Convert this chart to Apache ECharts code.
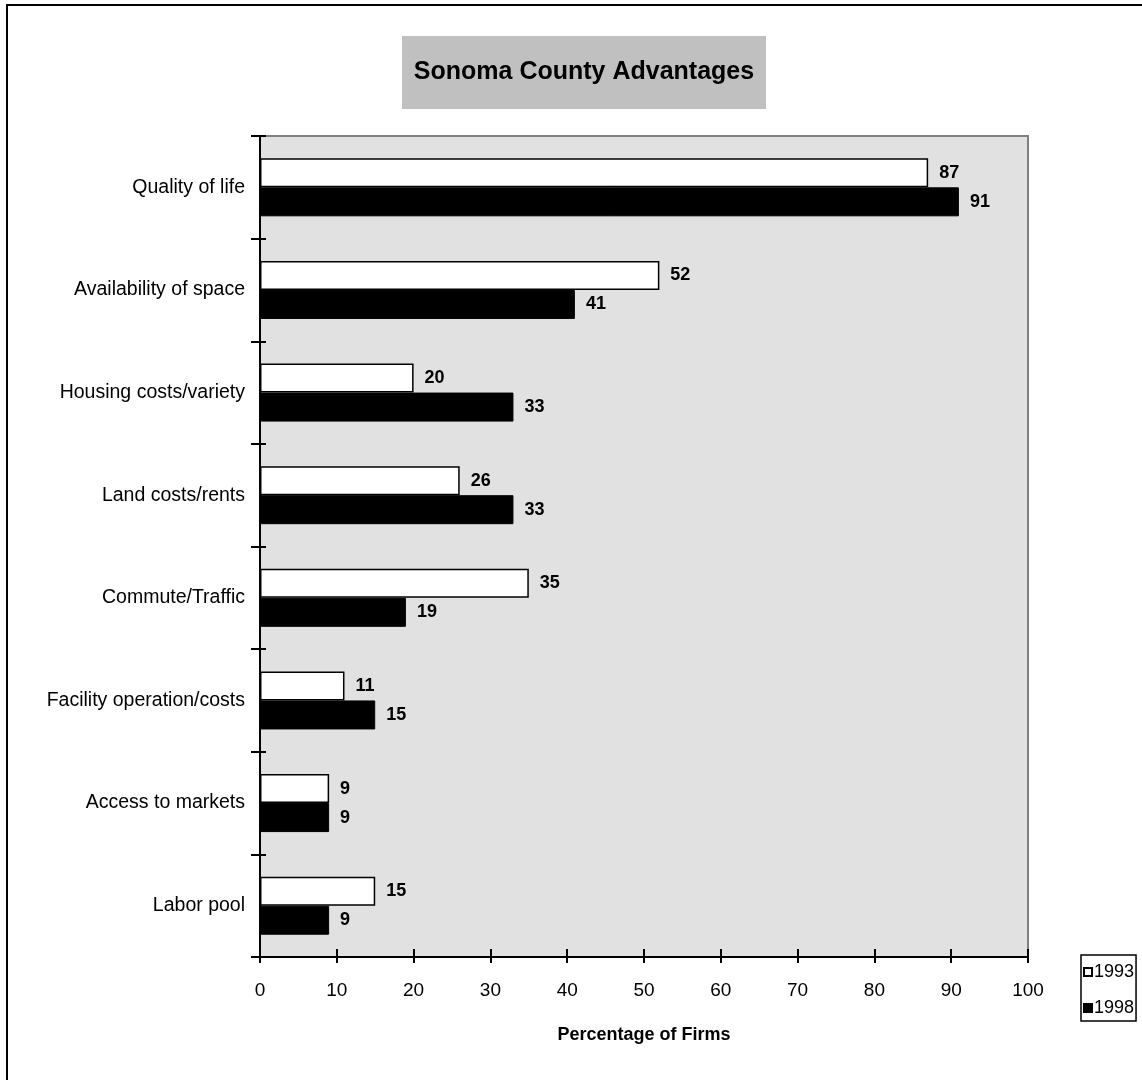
<!DOCTYPE html>
<html>
<head>
<meta charset="utf-8">
<style>
  html, body { margin: 0; padding: 0; background: #ffffff; }
  #chart { width: 1142px; height: 1080px; }
</style>
<script src="https://cdn.jsdelivr.net/npm/echarts@6/dist/echarts.min.js"></script>
</head>
<body>
<div id="chart"></div>
<script>
// Reasons firms gave for locating in Sonoma County (percentage of firms)
const categories = [
  'Quality of life',
  'Availability of space',
  'Housing costs/variety',
  'Land costs/rents',
  'Commute/Traffic',
  'Facility operation/costs',
  'Access to markets',
  'Labor pool'
];
const values1993 = [87, 52, 20, 26, 35, 11, 9, 15];
const values1998 = [91, 41, 33, 33, 19, 15, 9, 9];
const seriesNames = ['1993', '1998'];
const xTicks = { min: 0, max: 100, interval: 10 };

const FONT = '"Liberation Sans", Arial, Helvetica, sans-serif';

const chart = echarts.init(document.getElementById('chart'), null, { renderer: 'canvas' });

const labelStyle = {
  show: true,
  position: 'right',
  distance: 11,
  fontFamily: FONT,
  fontSize: 18,
  fontWeight: 'bold',
  color: '#000'
};

chart.setOption({
  backgroundColor: '#ffffff',
  animation: false,
  graphic: [
    // outer chart frame
    {
      type: 'rect',
      shape: { x: 7, y: 5, width: 1300, height: 1300 },
      style: { fill: 'none', stroke: '#000', lineWidth: 2 },
      z: 0
    },
    // title box
    {
      type: 'rect',
      shape: { x: 402, y: 36, width: 364, height: 73 },
      style: { fill: '#c0c0c0' },
      z: 1
    },
    {
      type: 'text',
      x: 584,
      y: 72,
      style: {
        text: 'Sonoma County Advantages',
        fontFamily: FONT,
        fontSize: 25,
        fontWeight: 'bold',
        fill: '#000',
        align: 'center',
        verticalAlign: 'middle'
      },
      z: 2
    }
  ],
  legend: {
    orient: 'vertical',
    left: 1081,
    top: 955,
    itemWidth: 8,
    itemHeight: 8,
    itemGap: 18,
    padding: [8, 2, 4, 2],
    borderColor: '#000',
    borderWidth: 1.5,
    backgroundColor: '#fff',
    textStyle: { fontFamily: FONT, fontSize: 18, color: '#000', padding: [0, 0, 0, -3] },
    data: seriesNames.map(n => ({ name: n, icon: 'rect' }))
  },
  grid: {
    left: 260,
    right: 114,
    top: 136,
    bottom: 123,
    show: true,
    backgroundColor: '#e1e1e1',
    borderColor: '#808080',
    borderWidth: 2,
    containLabel: false
  },
  xAxis: [
    {
      type: 'value',
      min: xTicks.min,
      max: xTicks.max,
      interval: xTicks.interval,
      position: 'bottom',
      name: 'Percentage of Firms',
      nameLocation: 'middle',
      nameGap: 69,
      nameTextStyle: { fontFamily: FONT, fontSize: 18, fontWeight: 'bold', color: '#000' },
      axisLine: { show: true, lineStyle: { color: '#000', width: 2 } },
      axisTick: { show: true, inside: false, length: 6, lineStyle: { color: '#000', width: 2 } },
      axisLabel: { fontFamily: FONT, fontSize: 19, color: '#000', margin: 24 },
      splitLine: { show: false }
    },
    {
      type: 'value',
      min: xTicks.min,
      max: xTicks.max,
      interval: xTicks.interval,
      position: 'bottom',
      axisLine: { show: false },
      axisTick: { show: true, inside: true, length: 8, lineStyle: { color: '#000', width: 2 } },
      axisLabel: { show: false },
      splitLine: { show: false }
    }
  ],
  yAxis: [
    {
      type: 'category',
      data: categories,
      inverse: true,
      axisLine: { show: true, lineStyle: { color: '#000', width: 2 } },
      axisTick: { show: true, inside: false, length: 9, lineStyle: { color: '#000', width: 2 } },
      axisLabel: { fontFamily: FONT, fontSize: 19.5, color: '#000', margin: 15 },
      splitLine: { show: false }
    },
    {
      type: 'category',
      data: categories,
      inverse: true,
      position: 'left',
      axisLine: { show: false },
      axisTick: { show: true, inside: true, length: 6, lineStyle: { color: '#000', width: 2 } },
      axisLabel: { show: false },
      splitLine: { show: false }
    }
  ],
  series: [
    {
      name: seriesNames[0],
      type: 'bar',
      xAxisIndex: 0,
      yAxisIndex: 0,
      data: values1993,
      barWidth: 29,
      barGap: '0%',
      itemStyle: { color: '#ffffff', borderColor: '#000', borderWidth: 1.5 },
      label: labelStyle,
      z: 3
    },
    {
      name: seriesNames[1],
      type: 'bar',
      xAxisIndex: 0,
      yAxisIndex: 0,
      data: values1998,
      barWidth: 29,
      barGap: '0%',
      itemStyle: { color: '#000000', borderColor: '#000', borderWidth: 1 },
      label: labelStyle,
      z: 3
    }
  ]
});
</script>
</body>
</html>
